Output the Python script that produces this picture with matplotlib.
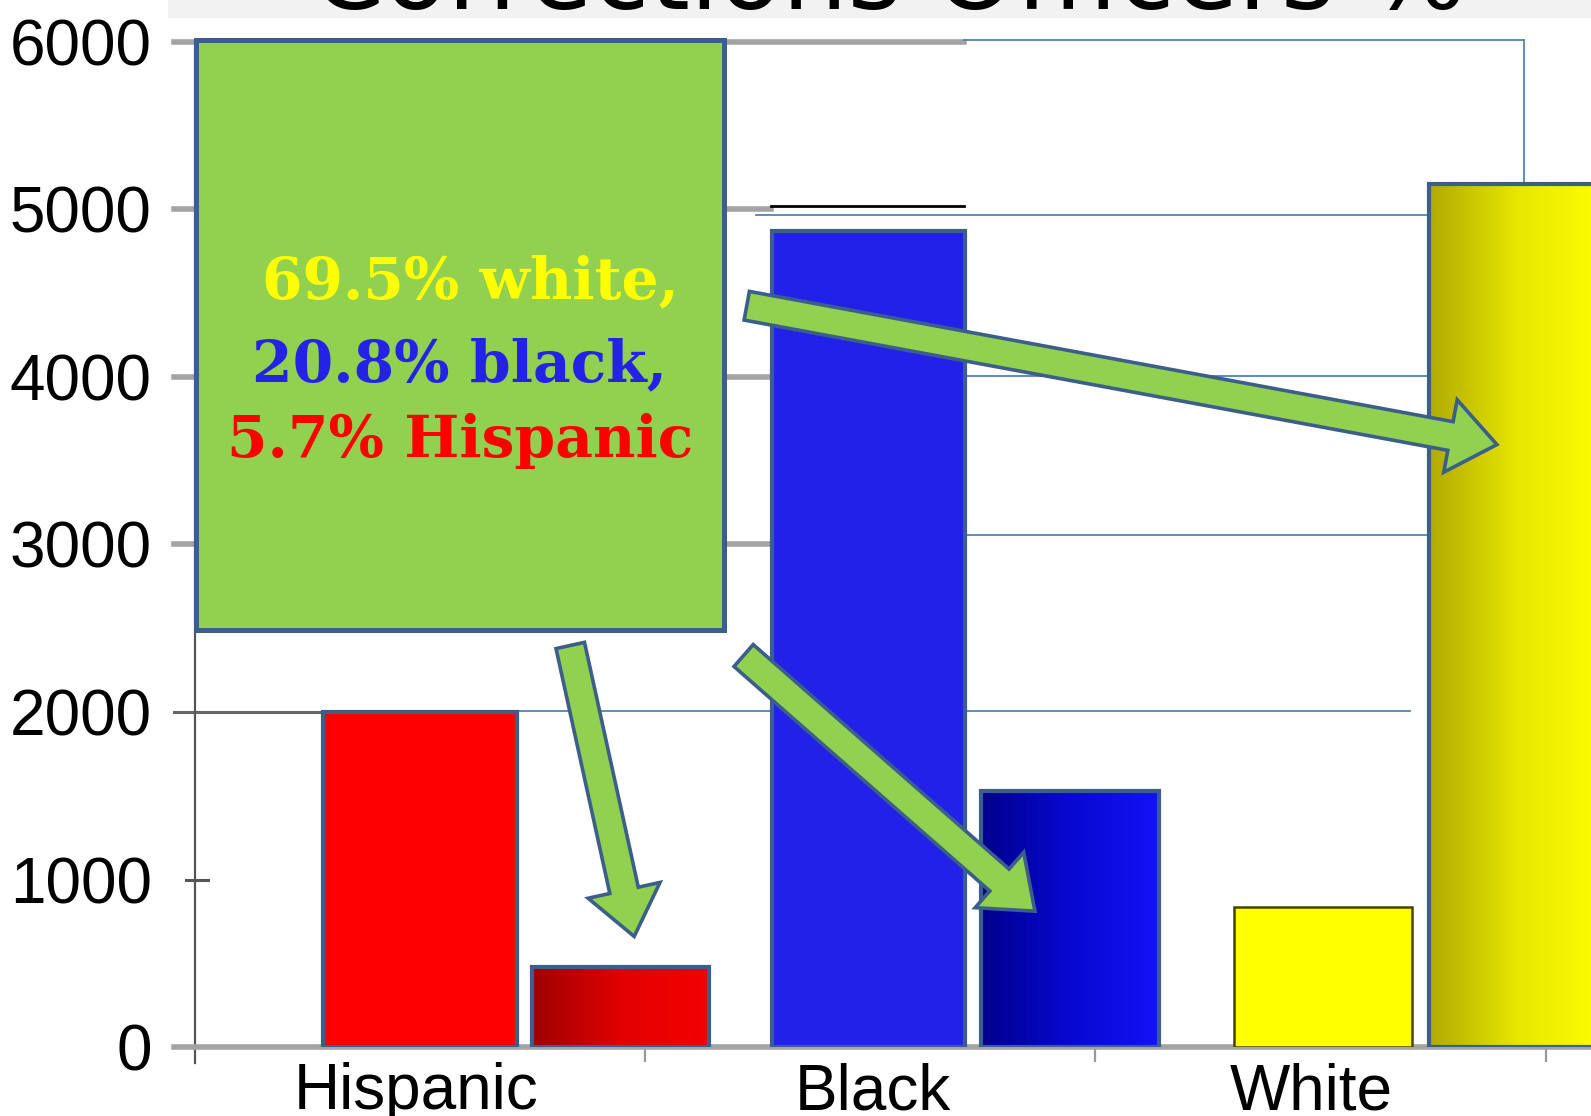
import numpy as np
import matplotlib
matplotlib.use("Agg")
import matplotlib.pyplot as plt
from matplotlib.patches import Rectangle, FancyArrowPatch, ArrowStyle
from matplotlib.colors import LinearSegmentedColormap

# ---- data -------------------------------------------------------------
categories = ["Hispanic", "Black", "White"]
population = [2000, 4870, 835]        # plain bar of each group
officers = [480, 1530, 5150]          # shaded bar of each group
yticks = [0, 1000, 2000, 3000, 4000, 5000, 6000]
title = "Corrections Officers %"
note_lines = ["69.5% white,", "20.8% black,", "5.7% Hispanic"]

# ---- styling ----------------------------------------------------------
plain_colors = ["#ff0000", "#2121ea", "#ffff00"]
plain_edges = ["#3b5f8a", "#3b5f8a", "#4a4200"]
shade_stops = [["#9e0000", "#e20000", "#f40000"],
               ["#00008c", "#0808d2", "#1212f6"],
               ["#b0aa00", "#e8e800", "#ffff00"]]
note_colors = ["#ffff00", "#2323e6", "#ff0000"]
edge_blue = "#3b5f8a"
box_green = "#92d050"
frame_blue = "#4f81bd"

plain_x = [0.500, 1.497, 2.506]
plain_w = [0.432, 0.429, 0.395]
shade_x = [0.946, 1.943, 2.942]
shade_w = [0.392, 0.395, 0.400]

fig = plt.figure(figsize=(15.91, 11.16), dpi=100)
fig.patch.set_facecolor("white")

# grey band behind the heading
fig.patches.append(Rectangle((0.1056, 0.9839), 0.90, 0.03, transform=fig.transFigure,
                             facecolor="#f2f2f2", edgecolor="none", zorder=0))
fig.text(0.196, 0.9919, title, ha="left", va="baseline", fontsize=74.5,
         family="DejaVu Sans", color="black", zorder=1)

ax = fig.add_axes([0.1224, 0.0618, 0.8776, 0.9382])
ax.set_facecolor("none")
for s in ax.spines.values():
    s.set_visible(False)

XMAX, YMAX = 3.101, 6250

# grid lines (partial, as laid out on the slide)
grey = "#a3a3a3"
ax.plot([-0.045, 1.708], [6000, 6000], color=grey, lw=4, zorder=1, clip_on=False)
for yv in (5000, 4000, 3000):
    ax.plot([-0.045, 1.28], [yv, yv], color=grey, lw=4, zorder=1, clip_on=False)
ax.plot([1.28, 1.708], [5020, 5020], color="black", lw=2, zorder=1)
ax.plot([-0.045, 0.29], [2000, 2000], color="#666666", lw=2.2, zorder=1, clip_on=False)
ax.plot([-0.02, 0.03], [1000, 1000], color="#555555", lw=2.2, zorder=1, clip_on=False)

# thin blue frame lines on the right
ax.plot([1.708, 2.952], [6011, 6011], color=frame_blue, lw=1.3, zorder=1)
ax.plot([2.952, 2.952], [6011, 5150], color=frame_blue, lw=1.3, zorder=1)
ax.plot([1.246, 2.738], [4964, 4964], color=frame_blue, lw=1.3, zorder=1)
ax.plot([1.708, 2.738], [4007, 4007], color=frame_blue, lw=1.3, zorder=1)
ax.plot([1.708, 2.738], [3057, 3057], color=frame_blue, lw=1.3, zorder=1)
ax.plot([0.714, 2.70], [2004, 2004], color=frame_blue, lw=1.3, zorder=1)

# axes lines
ax.plot([0, 0], [-95, 6000], color="#555555", lw=1.6, zorder=2, clip_on=False)
ax.plot([-0.045, XMAX], [0, 0], color=grey, lw=4, zorder=2, clip_on=False)

# plain bars
ax.bar(plain_x, population, width=plain_w, color=plain_colors,
       edgecolor=plain_edges, linewidth=[3, 3, 1.8], zorder=3)

# shaded bars: horizontal gradient clipped to each bar
for x, w, h, stops in zip(shade_x, shade_w, officers, shade_stops):
    bar = ax.bar([x], [h], width=w, facecolor="none", edgecolor=edge_blue,
                 linewidth=3, zorder=4)[0]
    cmap = LinearSegmentedColormap.from_list("shade", stops)
    grad = np.linspace(0, 1, 256).reshape(1, -1)
    im = ax.imshow(grad, cmap=cmap, aspect="auto", zorder=3.5,
                   extent=(x - w / 2, x + w / 2, 0, h), interpolation="bilinear")
    im.set_clip_path(bar)

# annotation box
ax.add_patch(Rectangle((0.002, 2490), 1.174, 3521, facecolor=box_green,
                       edgecolor=edge_blue, linewidth=3.6, zorder=5, clip_on=False))
note_y = [4470, 3975, 3525]
note_x = [0.613, 0.588, 0.590]
for txt, c, xv, yv in zip(note_lines, note_colors, note_x, note_y):
    ax.text(xv, yv, txt, color=c, ha="center", va="baseline", fontsize=42,
            fontweight="bold", family="DejaVu Serif", zorder=7)

# arrows from the box to the shaded bars
style = ArrowStyle.Simple(head_length=34, head_width=53, tail_width=21)
arrows = [((1.226, 4425), (2.892, 3596)),
          ((0.834, 2397), (0.976, 660)),
          ((1.219, 2337), (1.866, 811))]
for a, b in arrows:
    ax.add_patch(FancyArrowPatch(a, b, arrowstyle=style, mutation_scale=1,
                                 shrinkA=0, shrinkB=0, facecolor=box_green,
                                 edgecolor=edge_blue, linewidth=2.6,
                                 joinstyle="miter", zorder=6))

# ticks and labels
ax.set_xlim(0, XMAX)
ax.set_ylim(0, YMAX)
ax.set_yticks(yticks)
ax.set_yticklabels([str(v) for v in yticks], fontsize=46, family="Liberation Sans")
ax.tick_params(axis="y", length=0, pad=31)
ax.set_xticks([1, 2, 3])
ax.set_xticklabels(["", "", ""])
ax.tick_params(axis="x", which="major", direction="out", length=11, width=1.6,
               color="#999999")
ax.set_xticks([0.491, 1.505, 2.479], minor=True)
ax.set_xticklabels(categories, minor=True, fontsize=46, family="Liberation Sans")
ax.tick_params(axis="x", which="minor", length=0, pad=11)

fig.savefig("out.png", dpi=100)
